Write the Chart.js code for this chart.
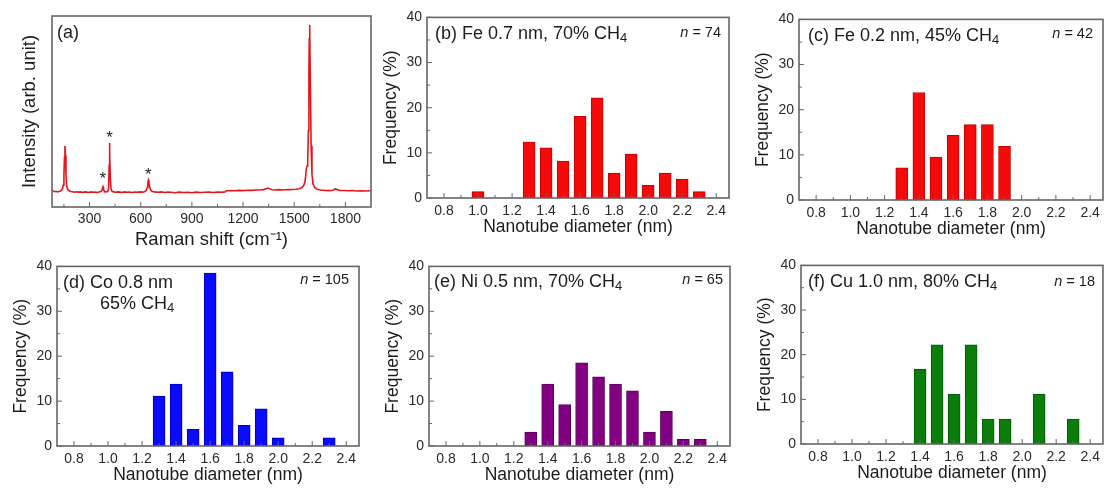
<!DOCTYPE html>
<html>
<head>
<meta charset="utf-8">
<script src="https://cdn.jsdelivr.net/npm/chart.js@4.4.1/dist/chart.umd.min.js"></script>
<style>
body{margin:0;background:#fff;width:1105px;height:490px;position:relative;overflow:hidden;}
canvas{position:absolute;}
</style>
</head>
<body>
<canvas id="ramanChart"></canvas>
<canvas id="feThickChart"></canvas>
<canvas id="feThinChart"></canvas>
<canvas id="coChart"></canvas>
<canvas id="niChart"></canvas>
<canvas id="cuChart"></canvas>
<script>
// Raman spectrum (a)
const ramanShift = [80,88,96,104,112,120,128,136,142,146,150,153,156,159,162,166,172,180,190,200,
  212,224,236,248,260,272,284,296,308,320,332,344,356,366,372,376,379,382,386,392,
  400,408,412,415,417,419,422,426,432,442,454,466,478,490,505,520,535,550,565,580,
  595,610,622,632,638,642,645,648,652,658,666,680,700,720,740,760,780,800,825,850,
  875,900,925,950,975,1000,1025,1050,1075,1095,1102,1125,1150,1175,1200,1225,1250,1275,1300,1320,
  1335,1345,1355,1370,1390,1410,1430,1450,1470,1490,1510,1530,1545,1555,1562,1567,1571,1575,1579,1583,
  1586,1588,1590,1592,1595,1599,1604,1610,1620,1635,1655,1680,1705,1725,1737,1742,1750,1765,1790,1815,
  1840,1865,1890,1915,1950];
const ramanIntensity = [8.9,8.3,8.0,8.2,7.9,8.1,8.4,8.8,9.6,11.5,17,26,32,27,17,11,9.2,8.5,8.1,8.0,
  7.7,8.0,7.8,7.9,7.6,7.9,7.8,7.6,7.9,7.7,7.8,7.6,7.9,8.1,8.6,9.8,10.6,9.6,8.4,8.0,
  7.9,8.3,10,22,33.5,28,15,9.5,8.2,7.9,7.7,7.9,7.8,7.6,7.9,7.7,7.8,7.6,7.8,7.7,
  7.9,7.8,8.0,8.6,10.2,12.8,14.1,13.2,10.8,9.0,8.2,7.9,7.7,7.9,7.6,7.8,7.7,7.5,7.8,7.6,
  7.7,7.5,7.8,7.6,7.7,7.8,7.6,7.8,7.7,7.9,8.5,8.6,8.5,8.7,8.6,8.8,8.7,8.9,8.9,9.1,
  9.6,9.9,9.5,9.0,8.9,9.1,8.9,9.0,9.1,9.2,9.3,9.6,10.2,11.2,12.8,16,20,21.5,24,40,
  70,88,95.3,90,62,32,17,12.2,10.2,9.3,8.9,8.7,8.6,8.8,9.3,9.6,9.1,8.7,8.6,8.5,
  8.6,8.4,8.5,8.4,8.5];
const ramanTicks = [300,600,900,1200,1500,1800];
const ramanMinor = [150,450,750,1050,1350,1650];
// substrate peaks marked with *
const starShift = [378,417,645];
const starLevel = [16.8,38.2,18.8];

// diameter histograms (b)-(f)
const diamTicks = [0.8,1.0,1.2,1.4,1.6,1.8,2.0,2.2,2.4];
const diamMinor = [0.9,1.1,1.3,1.5,1.7,1.9,2.1,2.3];
const freqTicks = [0,10,20,30,40];
const freqMinor = [5,15,25,35];

const feThickDiam = [1.0,1.3,1.4,1.5,1.6,1.7,1.8,1.9,2.0,2.1,2.2,2.3];
const feThickFreq = [1.4,12.4,11.1,8.2,18.1,22.2,5.5,9.7,2.8,5.5,4.2,1.4];
const feThinDiam = [1.3,1.4,1.5,1.6,1.7,1.8,1.9];
const feThinFreq = [7.1,23.8,9.5,14.3,16.7,16.7,11.9];
const coDiam = [1.3,1.4,1.5,1.6,1.7,1.8,1.9,2.0,2.3];
const coFreq = [11.1,13.8,3.7,38.5,16.5,4.6,8.3,1.8,1.8];
const niDiam = [1.3,1.4,1.5,1.6,1.7,1.8,1.9,2.0,2.1,2.2,2.3];
const niFreq = [3.1,13.8,9.2,18.5,15.4,13.8,12.3,3.1,7.7,1.5,1.5];
const cuDiam = [1.4,1.5,1.6,1.7,1.8,1.9,2.1,2.3];
const cuFreq = [16.7,22.2,11.1,22.2,5.6,5.6,11.1,5.6];

const FONT = "'Liberation Sans', Arial, sans-serif";
const TEXT = '#1c1c1c';
const TICK = '#2a2a2a';
const AXIS = '#666666';

function placeCanvas(id, box, yW, xH, padTop, padRight) {
  const c = document.getElementById(id);
  const w = yW + (box.right - box.left) + padRight;
  const h = padTop + (box.bottom - box.top) + xH;
  c.width = w;
  c.height = h;
  c.style.left = (box.left - yW) + 'px';
  c.style.top = (box.top - padTop) + 'px';
  c.style.width = w + 'px';
  c.style.height = h + 'px';
  return c;
}

// box around the plot with inward ticks
const framePlugin = {
  id: 'frame',
  afterDatasetsDraw(chart, args, opts) {
    const {ctx, chartArea: a, scales: {x, y}} = chart;
    ctx.save();
    ctx.strokeStyle = AXIS;
    ctx.lineWidth = 1;
    const line = (x1, y1, x2, y2) => {
      ctx.beginPath(); ctx.moveTo(x1, y1); ctx.lineTo(x2, y2); ctx.stroke();
    };
    (opts.xMajor || []).forEach(v => { const p = x.getPixelForValue(v); line(p, a.bottom, p, a.bottom - 5); });
    (opts.xMinor || []).forEach(v => { const p = x.getPixelForValue(v); line(p, a.bottom, p, a.bottom - 3); });
    (opts.yMajor || []).forEach(v => { const p = y.getPixelForValue(v); line(a.left, p, a.left + 5, p); });
    (opts.yMinor || []).forEach(v => { const p = y.getPixelForValue(v); line(a.left, p, a.left + 3, p); });
    ctx.lineWidth = 1.6;
    ctx.strokeRect(a.left, a.top, a.right - a.left, a.bottom - a.top);
    ctx.restore();
  }
};

// panel captions, sample size and peak markers
const notePlugin = {
  id: 'notes',
  afterDraw(chart, args, opts) {
    const {ctx, chartArea: a} = chart;
    ctx.save();
    ctx.fillStyle = TEXT;
    ctx.textBaseline = 'middle';
    ctx.textAlign = 'left';
    (opts.lines || []).forEach(ln => {
      let xx = a.left + ln.dx;
      const yy = a.top + ln.dy;
      ln.parts.forEach(([txt, sub]) => {
        ctx.font = (sub ? 13 : 18) + 'px ' + FONT;
        ctx.fillText(txt, xx, yy + (sub ? 4 : 0));
        xx += ctx.measureText(txt).width;
      });
    });
    if (opts.count) {
      const yy = a.top + opts.countDy;
      const rx = a.right - opts.countDx;
      ctx.font = '14.5px ' + FONT;
      const rest = ' = ' + opts.count;
      const rw = ctx.measureText(rest).width;
      ctx.textAlign = 'right';
      ctx.fillText(rest, rx, yy);
      ctx.font = 'italic 14.5px ' + FONT;
      ctx.fillText('n', rx - rw, yy);
    }
    if (opts.stars) {
      const {x, y} = chart.scales;
      ctx.font = '17px ' + FONT;
      ctx.textAlign = 'center';
      ctx.textBaseline = 'alphabetic';
      opts.stars.x.forEach((s, i) => {
        ctx.fillText('*', x.getPixelForValue(s), y.getPixelForValue(opts.stars.y[i]) + 9);
      });
    }
    ctx.restore();
  }
};

function histogram(id, box, diam, freq, color, edge, lines, count, padRight) {
  const canvas = placeCanvas(id, box, 50, 44, 12, padRight);
  return new Chart(canvas, {
    type: 'bar',
    data: {
      datasets: [{
        data: diam.map((d, i) => ({x: d, y: freq[i]})),
        backgroundColor: color,
        borderColor: edge,
        borderWidth: 1,
        barThickness: 12
      }]
    },
    options: {
      responsive: false,
      animation: false,
      layout: {padding: {top: 12, right: padRight, left: 0, bottom: 0}},
      plugins: {
        legend: {display: false},
        tooltip: {enabled: false},
        frame: {xMajor: diamTicks, xMinor: diamMinor, yMajor: freqTicks, yMinor: freqMinor},
        notes: {lines: lines, count: count.n, countDx: count.dx, countDy: count.dy}
      },
      scales: {
        x: {
          type: 'linear', min: 0.7, max: 2.475, offset: false,
          grid: {display: false, drawTicks: false}, border: {display: false},
          afterBuildTicks: s => { s.ticks = diamTicks.map(v => ({value: v})); },
          afterFit: s => { s.height = 44; },
          ticks: {padding: 5, color: TICK, font: {family: FONT, size: 14}, maxRotation: 0, autoSkip: false,
                  callback: v => v.toFixed(1)},
          title: {display: true, text: 'Nanotube diameter (nm)', color: TEXT,
                  font: {family: FONT, size: 17.5}, padding: {top: 0, bottom: 4.5}}
        },
        y: {
          min: 0, max: 40,
          grid: {display: false, drawTicks: false}, border: {display: false},
          afterBuildTicks: s => { s.ticks = freqTicks.map(v => ({value: v})); },
          afterFit: s => { s.width = 50; },
          ticks: {padding: 5, color: TICK, font: {family: FONT, size: 14}},
          title: {display: true, text: 'Frequency (%)', color: TEXT,
                  font: {family: FONT, size: 17.5}, padding: {top: 3.5, bottom: 0}}
        }
      }
    },
    plugins: [framePlugin, notePlugin]
  });
}

// (a) Raman spectrum
const ramanBox = {left: 52, top: 16, right: 371, bottom: 207};
new Chart(placeCanvas('ramanChart', ramanBox, 52, 44, 12, 4), {
  type: 'line',
  data: {
    datasets: [{
      data: ramanShift.map((s, i) => ({x: s, y: ramanIntensity[i]})),
      borderColor: '#e5161b',
      borderWidth: 1.6,
      pointRadius: 0,
      tension: 0
    }]
  },
  options: {
    responsive: false,
    animation: false,
    layout: {padding: {top: 12, right: 4, left: 0, bottom: 0}},
    plugins: {
      legend: {display: false},
      tooltip: {enabled: false},
      frame: {xMajor: ramanTicks, xMinor: ramanMinor},
      notes: {lines: [{dx: 5, dy: 17, parts: [['(a)', false]]}], stars: {x: starShift, y: starLevel}}
    },
    scales: {
      x: {
        type: 'linear', min: 80, max: 1950,
        grid: {display: false, drawTicks: false}, border: {display: false},
        afterBuildTicks: s => { s.ticks = ramanTicks.map(v => ({value: v})); },
        afterFit: s => { s.height = 44; },
        ticks: {padding: 4, color: TICK, font: {family: FONT, size: 14}, maxRotation: 0, autoSkip: false,
                callback: v => String(v)},
        title: {display: true, text: 'Raman shift (cm\u207B\u00B9)', color: TEXT,
                font: {family: FONT, size: 18.5}, padding: {top: 0, bottom: 0}}
      },
      y: {
        min: 0, max: 100,
        grid: {display: false, drawTicks: false}, border: {display: false},
        ticks: {display: false},
        afterFit: s => { s.width = 52; },
        title: {display: true, text: 'Intensity (arb. unit)', color: TEXT,
                font: {family: FONT, size: 18.5}, padding: {top: 19, bottom: 0}}
      }
    }
  },
  plugins: [framePlugin, notePlugin]
});

// (b)-(f) diameter distributions
histogram('feThickChart', {left: 427, top: 16, right: 729, bottom: 198}, feThickDiam, feThickFreq,
  '#f30a0a', '#c40000',
  [{dx: 8, dy: 17, parts: [['(b) Fe 0.7 nm, 70% CH', false], ['4', true]]}],
  {n: 74, dx: 8, dy: 16}, 4);

histogram('feThinChart', {left: 799, top: 18, right: 1103, bottom: 200}, feThinDiam, feThinFreq,
  '#f30a0a', '#c40000',
  [{dx: 9, dy: 17, parts: [['(c) Fe 0.2 nm, 45% CH', false], ['4', true]]}],
  {n: 42, dx: 10, dy: 15}, 2);

histogram('coChart', {left: 57, top: 265, right: 359, bottom: 446}, coDiam, coFreq,
  '#0a0aff', '#0000b4',
  [{dx: 6, dy: 17, parts: [['(d) Co 0.8 nm', false]]},
   {dx: 43, dy: 38, parts: [['65% CH', false], ['4', true]]}],
  {n: 105, dx: 10, dy: 14}, 4);

histogram('niChart', {left: 429, top: 265, right: 730, bottom: 446}, niDiam, niFreq,
  '#820082', '#5a005a',
  [{dx: 5, dy: 16, parts: [['(e) Ni 0.5 nm, 70% CH', false], ['4', true]]}],
  {n: 65, dx: 7, dy: 14}, 4);

histogram('cuChart', {left: 801, top: 264, right: 1103, bottom: 444}, cuDiam, cuFreq,
  '#0a7d0a', '#055a05',
  [{dx: 7, dy: 17, parts: [['(f) Cu 1.0 nm, 80% CH', false], ['4', true]]}],
  {n: 18, dx: 8, dy: 17}, 2);
</script>
</body>
</html>
